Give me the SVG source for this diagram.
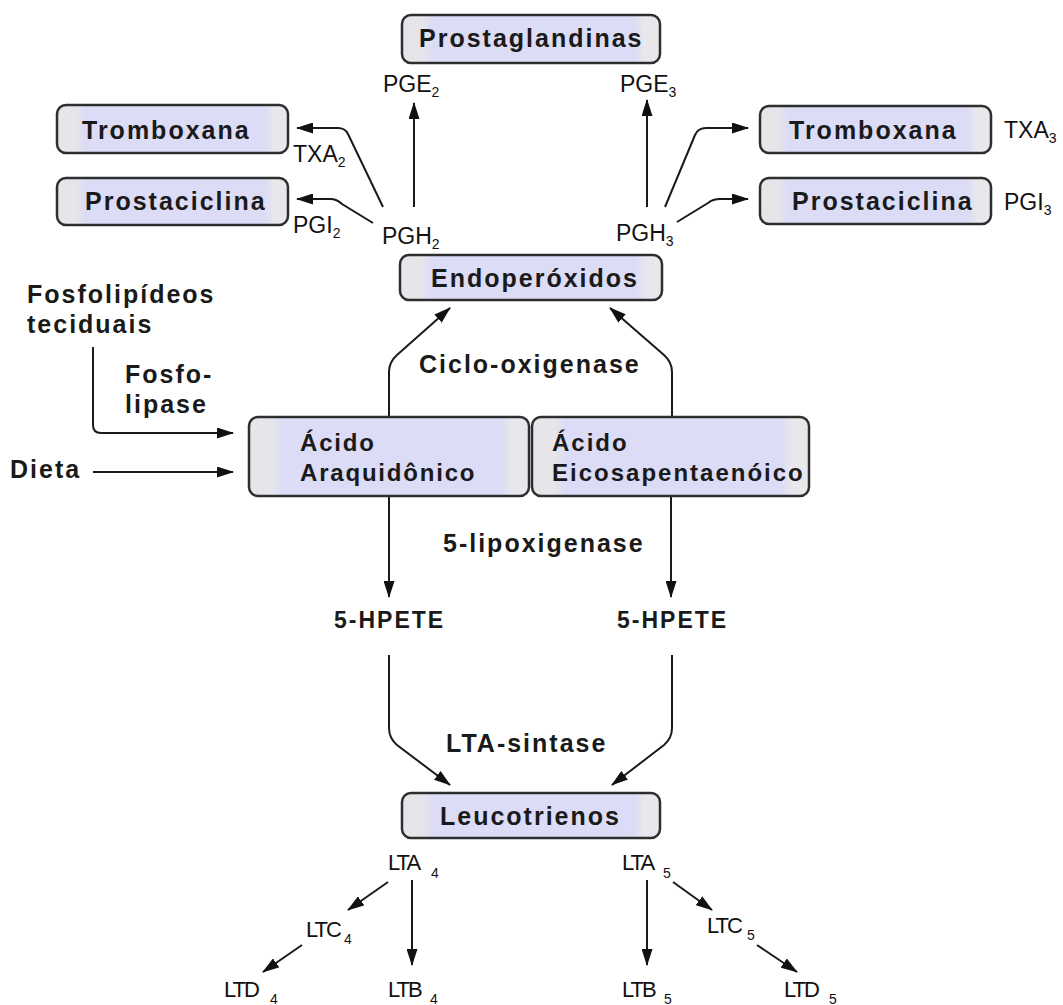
<svg xmlns="http://www.w3.org/2000/svg" width="1063" height="1005" viewBox="0 0 1063 1005">
<defs>
<linearGradient id="boxfill" x1="0" y1="0" x2="1" y2="0">
<stop offset="0" stop-color="#e6e6ea"/>
<stop offset="0.08" stop-color="#e6e6ea"/>
<stop offset="0.12" stop-color="#dcdcf6"/>
<stop offset="0.9" stop-color="#dcdcf6"/>
<stop offset="0.94" stop-color="#e8e8ec"/>
<stop offset="1" stop-color="#e8e8ec"/>
</linearGradient>
<marker id="ah" markerUnits="userSpaceOnUse" markerWidth="17" markerHeight="11" refX="16" refY="5.5" orient="auto">
<path d="M0,0 L17,5.5 L0,11 z" fill="#111"/>
</marker>
<style>
.box{fill:url(#boxfill);stroke:#2e2e2e;stroke-width:2.5}
.b{font-family:"Liberation Sans",Arial,sans-serif;font-weight:bold;font-size:25px;letter-spacing:2px;fill:#1a1a1a}
.r{font-family:"Liberation Sans",Arial,sans-serif;font-size:23px;fill:#111}
.s{font-size:14px}
.l{font-family:"Liberation Sans",Arial,sans-serif;font-size:22px;letter-spacing:-2px;fill:#111}
.c{fill:none;stroke:#1a1a1a;stroke-width:2;marker-end:url(#ah)}
</style>
</defs>
<rect width="1063" height="1005" fill="#ffffff"/>

<g id="connectors">
<path class="c" d="M414,207 L414,103"/>
<path class="c" d="M383,207 L348,134 Q345,128 338,128 L297,128"/>
<path class="c" d="M373,223 L342,204 Q337,199 330,199 L297,199"/>
<path class="c" d="M647,207 L647,100"/>
<path class="c" d="M665,207 L695,135 Q698,128 706,128 L748,128"/>
<path class="c" d="M677,222 L708,203 Q713,199 720,199 L748,199"/>
<path class="c" d="M389,417 L389,372 Q389,362 397,355 L450,308"/>
<path class="c" d="M672,417 L672,372 Q672,362 664,355 L610,308"/>
<path class="c" d="M93,347 L93,425 Q93,433 101,433 L233,433"/>
<path class="c" d="M93,472 L233,472"/>
<path class="c" d="M389,496 L389,597"/>
<path class="c" d="M671,496 L671,597"/>
<path class="c" d="M389,655 L389,728 Q389,738 397,745 L450,785"/>
<path class="c" d="M672,655 L672,728 Q672,738 664,745 L612,785"/>
<path class="c" d="M412,880 L412,965"/>
<path class="c" d="M647,880 L647,965"/>
<path class="c" d="M388,882 L348,910"/>
<path class="c" d="M302,945 L263,972"/>
<path class="c" d="M673,882 L712,910"/>
<path class="c" d="M757,945 L797,972"/>
</g>

<g id="prostaglandinas">
<rect class="box" x="402" y="15" width="258" height="48" rx="9"/>
<text class="b" x="419" y="47">Prostaglandinas</text>
</g>
<g id="tromboxana-left">
<rect class="box" x="57" y="105" width="231" height="48" rx="9"/>
<text class="b" x="82" y="139">Tromboxana</text>
</g>
<g id="prostaciclina-left">
<rect class="box" x="57" y="178" width="231" height="47" rx="9"/>
<text class="b" x="85" y="210">Prostaciclina</text>
</g>
<g id="tromboxana-right">
<rect class="box" x="760" y="106" width="231" height="47" rx="9"/>
<text class="b" x="789" y="139">Tromboxana</text>
</g>
<g id="prostaciclina-right">
<rect class="box" x="760" y="178" width="231" height="46" rx="9"/>
<text class="b" x="792" y="210">Prostaciclina</text>
</g>
<g id="endoperoxidos">
<rect class="box" x="400" y="255" width="262" height="45" rx="9"/>
<text class="b" x="431" y="287">Endoperóxidos</text>
</g>
<g id="acido-araquidonico">
<rect class="box" x="249" y="417" width="280" height="79" rx="9"/>
<text class="b" style="font-size:24px;letter-spacing:1.8px" x="300" y="451">Ácido</text>
<text class="b" style="font-size:24px;letter-spacing:1.8px" x="300" y="481">Araquidônico</text>
</g>
<g id="acido-eicosapentaenoico">
<rect class="box" x="532" y="417" width="277" height="79" rx="9"/>
<text class="b" style="font-size:24px;letter-spacing:2px" x="552" y="451">Ácido</text>
<text class="b" style="font-size:24px;letter-spacing:2px" x="552" y="481">Eicosapentaenóico</text>
</g>
<g id="leucotrienos">
<rect class="box" x="402" y="793" width="258" height="45" rx="9"/>
<text class="b" x="440" y="825">Leucotrienos</text>
</g>

<g id="labels">
<text class="r" x="383" y="92">PGE<tspan class="s" dy="5">2</tspan></text>
<text class="r" x="620" y="92">PGE<tspan class="s" dy="5">3</tspan></text>
<text class="r" x="293" y="162">TXA<tspan class="s" dy="5">2</tspan></text>
<text class="r" x="293" y="233">PGI<tspan class="s" dy="5">2</tspan></text>
<text class="r" x="382" y="244">PGH<tspan class="s" dy="5">2</tspan></text>
<text class="r" x="616" y="241">PGH<tspan class="s" dy="5">3</tspan></text>
<text class="r" x="1004" y="138">TXA<tspan class="s" dy="5">3</tspan></text>
<text class="r" x="1004" y="210">PGI<tspan class="s" dy="5">3</tspan></text>

<text class="b" x="27" y="303">Fosfolipídeos</text>
<text class="b" x="27" y="333">teciduais</text>
<text class="b" x="125" y="383">Fosfo-</text>
<text class="b" x="125" y="413">lipase</text>
<text class="b" x="10" y="478">Dieta</text>
<text class="b" x="419" y="373">Ciclo-oxigenase</text>
<text class="b" x="443" y="552">5-lipoxigenase</text>
<text class="b" style="font-size:23px" x="334" y="628">5-HPETE</text>
<text class="b" style="font-size:23px" x="617" y="628">5-HPETE</text>
<text class="b" x="446" y="752">LTA-sintase</text>

<text class="l" x="388" y="870">LTA</text><text class="r s" x="431" y="878">4</text>
<text class="l" x="622" y="870">LTA</text><text class="r s" x="663" y="878">5</text>
<text class="l" x="306" y="937">LTC</text><text class="r s" x="344" y="944">4</text>
<text class="l" x="707" y="933">LTC</text><text class="r s" x="747" y="940">5</text>
<text class="l" x="224" y="997">LTD</text><text class="r s" x="270" y="1004">4</text>
<text class="l" x="388" y="997">LTB</text><text class="r s" x="430" y="1004">4</text>
<text class="l" x="622" y="997">LTB</text><text class="r s" x="664" y="1004">5</text>
<text class="l" x="784" y="997">LTD</text><text class="r s" x="829" y="1004">5</text>
</g>
</svg>
